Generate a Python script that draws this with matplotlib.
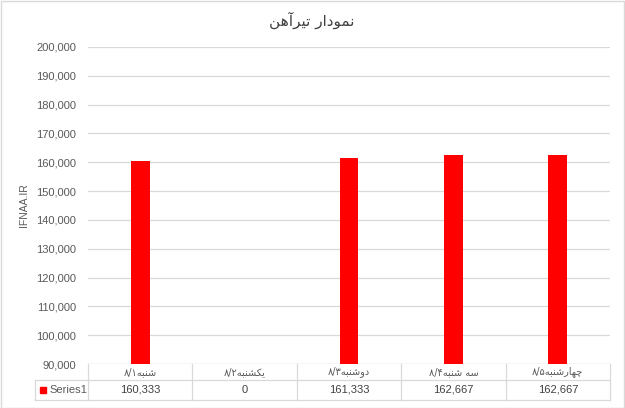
import matplotlib
matplotlib.use("Agg")
import matplotlib.pyplot as plt
import matplotlib.transforms as mtransforms
from matplotlib.patches import Rectangle

# ---- data ----
days = ['شنبه', 'یکشنبه', 'دوشنبه', 'سه شنبه', 'چهارشنبه']
dates = ['۸/۱', '۸/۲', '۸/۳', '۸/۴', '۸/۵']
values = [160333, 0, 161333, 162667, 162667]
value_labels = ['160,333', '0', '161,333', '162,667', '162,667']
series_name = 'Series1'
title_text = 'نمودار تیرآهن'
ylabel_text = 'IFNAA.IR'
yticks = list(range(90000, 200001, 10000))

# ---- minimal Arabic shaping (presentation forms, visual order) ----
FORMS = {
    'ن': (0xFEE5, 0xFEE6, 0xFEE7, 0xFEE8),
    'م': (0xFEE1, 0xFEE2, 0xFEE3, 0xFEE4),
    'و': (0xFEED, 0xFEEE, None, None),
    'د': (0xFEA9, 0xFEAA, None, None),
    'ا': (0xFE8D, 0xFE8E, None, None),
    'آ': (0xFE81, 0xFE82, None, None),
    'ر': (0xFEAD, 0xFEAE, None, None),
    'ت': (0xFE95, 0xFE96, 0xFE97, 0xFE98),
    'ی': (0xFBFC, 0xFBFD, 0xFBFE, 0xFBFF),
    'ه': (0xFEE9, 0xFEEA, 0xFEEB, 0xFEEC),
    'ش': (0xFEB5, 0xFEB6, 0xFEB7, 0xFEB8),
    'ب': (0xFE8F, 0xFE90, 0xFE91, 0xFE92),
    'ک': (0xFB8E, 0xFB8F, 0xFB90, 0xFB91),
    'س': (0xFEB1, 0xFEB2, 0xFEB3, 0xFEB4),
    'چ': (0xFB7A, 0xFB7B, 0xFB7C, 0xFB7D),
}


def shape_rtl(text):
    out = []
    n = len(text)
    for i, ch in enumerate(text):
        if ch not in FORMS:
            out.append(ch)
            continue
        f = FORMS[ch]
        prev = text[i - 1] if i > 0 else None
        nxt = text[i + 1] if i < n - 1 else None
        jp = prev in FORMS and FORMS[prev][2] is not None
        jn = nxt in FORMS and f[2] is not None
        if jp and jn:
            code = f[3]
        elif jp:
            code = f[1]
        elif jn:
            code = f[2]
        else:
            code = f[0]
        out.append(chr(code))
    return ''.join(reversed(out))


cat_labels = [d + shape_rtl(w) for d, w in zip(dates, days)]

AR_FONT = ['DejaVu Sans', 'Noto Sans']
NUM_FONT = ['Liberation Sans', 'DejaVu Sans']
GRID = '#d9d9d9'
TXT = '#595959'

fig = plt.figure(figsize=(6.25, 4.08), dpi=100)
fig.patch.set_facecolor('white')
W, H = 625, 408
ax = fig.add_axes([88 / W, (H - 364) / H, (610 - 88) / W, (364 - 47) / H])

x = list(range(len(values)))
ax.bar(x, values, width=0.18, color='#ff0000', zorder=3)
ax.set_xlim(-0.5, len(values) - 0.5)
ax.set_ylim(90000, 200000)
ax.set_yticks(yticks)
ax.set_yticklabels([f'{v:,}' for v in yticks], fontfamily=NUM_FONT, fontsize=8, color=TXT)
ax.tick_params(axis='y', length=0, pad=8.5)
ax.set_xticks([])
ax.grid(axis='y', color=GRID, linewidth=0.9, zorder=0)
for s in ax.spines.values():
    s.set_visible(False)
ax.axhline(90000, color=GRID, linewidth=0.9, zorder=1)

ax.set_ylabel(ylabel_text, fontfamily=NUM_FONT, fontsize=7.5, color=TXT, labelpad=5)

fig.text(312 / W, 1 - 20 / H, shape_rtl(title_text), ha='center', va='center',
         fontfamily=AR_FONT, fontsize=11, color='#404040')

# ---- data table ----
trans = mtransforms.blended_transform_factory(ax.transData, fig.transFigure)
ytop = 1 - 364 / H
ymid = 1 - 380 / H
ybot = 1 - 400 / H
n = len(values)
# horizontal lines
ax.plot([-0.5, n - 0.5], [ymid, ymid], transform=trans, color=GRID, lw=0.9, clip_on=False)
ax.plot([-0.5, n - 0.5], [ybot, ybot], transform=trans, color=GRID, lw=0.9, clip_on=False)
# vertical lines
for b in range(n + 1):
    ax.plot([b - 0.5, b - 0.5], [ytop, ybot], transform=trans, color=GRID, lw=0.9, clip_on=False)
# legend key cell
figtr = fig.transFigure
fig.add_artist(plt.Line2D([35 / W, 88 / W], [ymid, ymid], color=GRID, lw=0.9, transform=figtr))
fig.add_artist(plt.Line2D([35 / W, 88 / W], [ybot, ybot], color=GRID, lw=0.9, transform=figtr))
fig.add_artist(plt.Line2D([35 / W, 35 / W], [ymid, ybot], color=GRID, lw=0.9, transform=figtr))
fig.add_artist(Rectangle((40 / W, 1 - 393 / H), 6 / W, 6 / H, color='#ff0000', transform=figtr))
fig.text(49 / W, 1 - 390 / H, series_name, ha='left', va='center',
         fontfamily=NUM_FONT, fontsize=8, color=TXT)

for i in range(n):
    ax.text(i, (ytop + ymid) / 2, cat_labels[i], transform=trans, ha='center', va='center',
            fontfamily=AR_FONT, fontsize=7, color=TXT)
    ax.text(i, (ymid + ybot) / 2, value_labels[i], transform=trans, ha='center', va='center',
            fontfamily=NUM_FONT, fontsize=8, color='#404040')

# outer chart border
fig.add_artist(Rectangle((0.5 / W, 0.5 / H), 1 - 1.5 / W, 1 - 1.5 / H, fill=False,
                         edgecolor=GRID, lw=1, transform=figtr))

fig.savefig('out.png', dpi=100)
